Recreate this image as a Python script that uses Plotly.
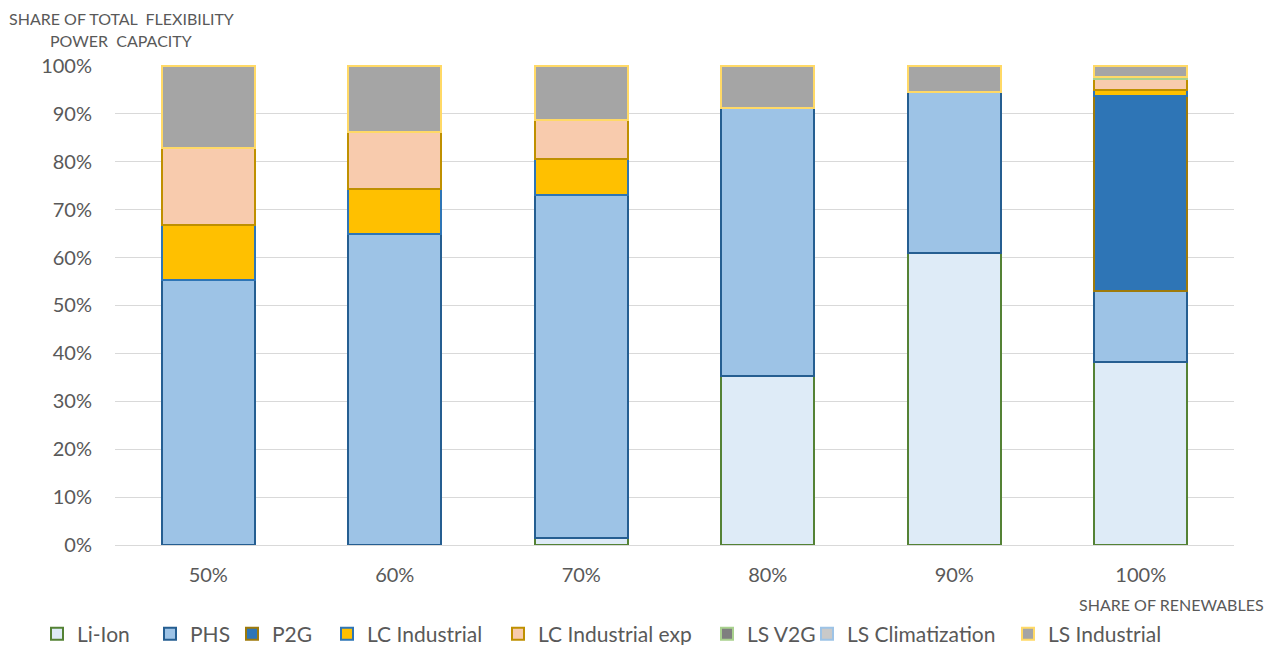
import plotly.graph_objects as go

categories = ["50%", "60%", "70%", "80%", "90%", "100%"]

li_ion = [None, None, 1.5, 35.2, 61.0, 38.3]
phs = [55.4, 65.0, 71.6, 56.0, 33.6, 14.8]
p2g = [None, None, None, None, None, 40.6]
lc_industrial = [11.5, 9.4, 7.5, None, None, 1.3]
lc_industrial_exp = [16.0, 11.9, 8.1, None, None, 2.3]
ls_v2g = [None, None, None, None, None, 0.3]
ls_climatization = [None, None, None, None, None, None]
ls_industrial = [17.1, 13.7, 11.3, 8.8, 5.4, 2.4]

y_ticks = [0, 10, 20, 30, 40, 50, 60, 70, 80, 90, 100]
y_tick_labels = [f"{v}%" for v in y_ticks]

series = [
    ("Li-Ion", li_ion, "#DEEBF7", "#548235"),
    ("PHS", phs, "#9DC3E6", "#255E91"),
    ("P2G", p2g, "#2E75B6", "#9E7A0A"),
    ("LC Industrial", lc_industrial, "#FFC000", "#2E75B6"),
    ("LC Industrial exp", lc_industrial_exp, "#F8CBAD", "#BF9000"),
    ("LS V2G", ls_v2g, "#7F7F7F", "#A9D18E"),
    ("LS Climatization", ls_climatization, "#C9C9C9", "#9DC3E6"),
    ("LS Industrial", ls_industrial, "#A5A5A5", "#FFD966"),
]

# legend text start positions (pixels) for each entry
legend_text_x = [75, 188, 270, 365, 536, 745, 845, 1046]

FONT = "Lato"
GRAY = "#595959"
W, H = 1274, 645

fig = go.Figure()
legends = {}
for i, (name, vals, fill, line) in enumerate(series):
    key = "legend" if i == 0 else f"legend{i + 1}"
    fig.add_trace(go.Bar(
        name=name, x=categories, y=vals, legend=key,
        marker=dict(color=fill, line=dict(color=line, width=2)),
    ))
    legends[key] = dict(
        orientation="h", xref="container", yref="container",
        x=(legend_text_x[i] - 38) / W, y=(H - 634) / H,
        xanchor="left", yanchor="middle",
        font=dict(size=21, color=GRAY, family=FONT),
        bgcolor="rgba(0,0,0,0)", borderwidth=0,
    )

fig.update_layout(
    barmode="stack",
    bargap=0.5,
    width=W, height=H,
    paper_bgcolor="white", plot_bgcolor="white",
    margin=dict(l=115, r=40, t=65, b=100),
    font=dict(family=FONT, color=GRAY, size=20),
    showlegend=True,
    xaxis=dict(
        type="category", showgrid=False, showline=True, linecolor="#D9D9D9",
        linewidth=1, ticks="", tickfont=dict(size=20, color=GRAY),
        ticklabelstandoff=12,
    ),
    yaxis=dict(
        range=[0, 100.2], tickmode="array", tickvals=y_ticks, ticktext=y_tick_labels,
        showgrid=True, gridcolor="#D9D9D9", gridwidth=1,
        zeroline=False, showline=False, ticks="",
        tickfont=dict(size=20, color=GRAY), ticklabelstandoff=22,
    ),
    annotations=[
        dict(text="SHARE OF TOTAL  FLEXIBILITY", xref="paper", yref="paper",
             x=(121 - 115) / 1119, y=(545 - 18) / 480, xanchor="center", yanchor="middle",
             showarrow=False, font=dict(size=16, color=GRAY, family=FONT)),
        dict(text="POWER  CAPACITY", xref="paper", yref="paper",
             x=(121 - 115) / 1119, y=(545 - 41) / 480, xanchor="center", yanchor="middle",
             showarrow=False, font=dict(size=16, color=GRAY, family=FONT)),
        dict(text="SHARE OF RENEWABLES", xref="paper", yref="paper",
             x=(1171 - 115) / 1119, y=(545 - 604) / 480, xanchor="center", yanchor="middle",
             showarrow=False, font=dict(size=16, color=GRAY, family=FONT)),
    ],
    **legends,
)

fig.write_html("out.html")
